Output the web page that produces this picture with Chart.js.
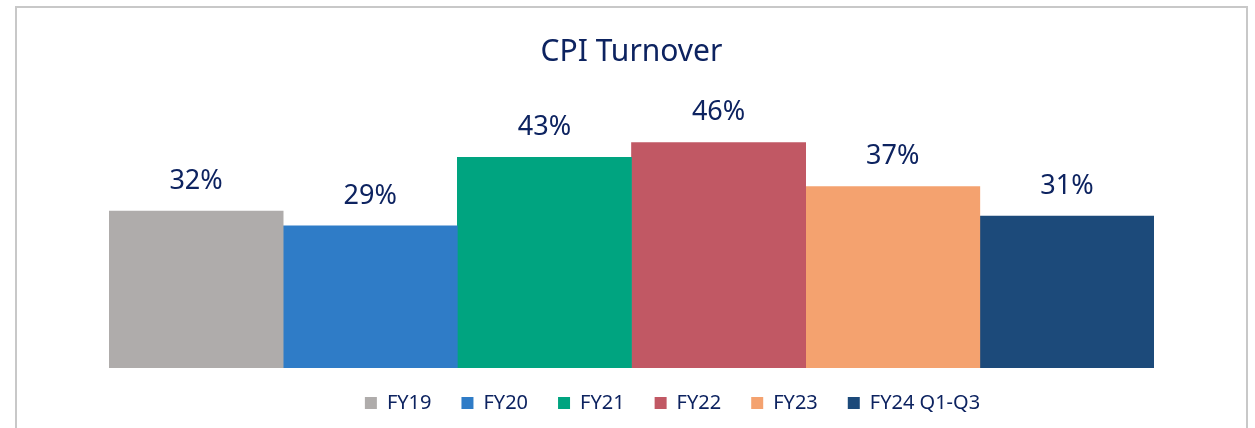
<!DOCTYPE html>
<html>
<head>
<meta charset="utf-8">
<title>CPI Turnover</title>
<script src="https://cdn.jsdelivr.net/npm/chart.js@4.4.1/dist/chart.umd.min.js"></script>
<style>
  html, body { margin: 0; padding: 0; background: #fff; overflow: hidden; }
  body { width: 1255px; height: 428px; position: relative; }
  .frame {
    position: absolute; left: 15px; top: 6px;
    width: 1229px; height: 440px;
    border: 2px solid #c8c8c8;
  }
  #cpiChart { position: absolute; left: 0; top: 0; }
</style>
</head>
<body>
<div class="frame"></div>
<canvas id="cpiChart" width="1255" height="428"></canvas>
<script>
// Data
const periods = ['FY19', 'FY20', 'FY21', 'FY22', 'FY23', 'FY24 Q1-Q3'];
const turnover = [32, 29, 43, 46, 37, 31];
const barColors = ['#afacab', '#2f7cc7', '#00a480', '#c15864', '#f4a26f', '#1c4a7a'];

const textColor = '#0d2360';
const fontFamily = "'Noto Sans', 'Open Sans', sans-serif";

// One dataset per period so each bar gets its own legend entry
const datasets = periods.map((p, i) => ({
    label: p,
    data: [turnover[i]],
    backgroundColor: barColors[i],
    borderWidth: 0,
    barPercentage: 1,
    categoryPercentage: 1
}));

// Value labels above each bar
const valueLabels = {
    id: 'valueLabels',
    afterDatasetsDraw(chart) {
        const ctx = chart.ctx;
        ctx.save();
        ctx.font = '27px ' + fontFamily;
        ctx.fillStyle = textColor;
        ctx.textAlign = 'center';
        ctx.textBaseline = 'middle';
        chart.data.datasets.forEach((ds, i) => {
            chart.getDatasetMeta(i).data.forEach((bar, j) => {
                ctx.fillText(ds.data[j] + '%', bar.x, bar.y - 30);
            });
        });
        ctx.restore();
    }
};

// Nudge the legend to where it sits in the original
const legendShift = {
    id: 'legendShift',
    afterLayout(chart) {
        const lg = chart.legend;
        lg.left += 41; lg.right += 41;
        lg.top -= 5; lg.bottom -= 5;
    }
};

new Chart(document.getElementById('cpiChart').getContext('2d'), {
    type: 'bar',
    data: {
        labels: [''],
        datasets: datasets
    },
    options: {
        responsive: false,
        devicePixelRatio: 1,
        animation: false,
        layout: {
            padding: { left: 109, right: 101, top: 0, bottom: 0 }
        },
        scales: {
            x: { display: false },
            y: { display: false, min: 0, max: 50 }
        },
        plugins: {
            title: {
                display: true,
                text: 'CPI Turnover',
                color: textColor,
                font: { family: fontFamily, size: 30, weight: 'normal' },
                padding: { top: 34, bottom: 53 }
            },
            legend: {
                position: 'bottom',
                labels: {
                    color: textColor,
                    font: { family: fontFamily, size: 20 },
                    boxWidth: 12,
                    boxHeight: 12,
                    padding: 30
                }
            },
            tooltip: { enabled: false }
        }
    },
    plugins: [valueLabels, legendShift]
});
</script>
</body>
</html>
